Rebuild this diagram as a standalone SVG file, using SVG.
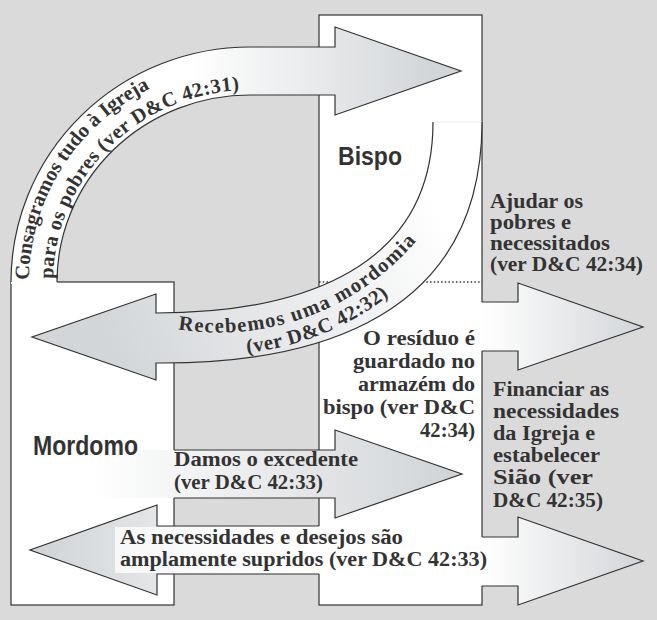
<svg xmlns="http://www.w3.org/2000/svg" width="657" height="620" viewBox="0 0 657 620">
<style>
.box{fill:#fff;stroke:#333;stroke-width:1.2}
.ol{fill:none;stroke:#333;stroke-width:1.2;stroke-linejoin:miter}
.t{font-family:"Liberation Serif","Times New Roman",serif;font-weight:bold;font-size:20.5px;fill:#333}
.h{font-family:"Liberation Sans",Arial,sans-serif;font-weight:bold;fill:#333}
</style>
<defs>
<linearGradient id="gA1" gradientUnits="userSpaceOnUse" x1="190" y1="0" x2="430" y2="0"><stop offset="0" stop-color="#fff"/><stop offset="1" stop-color="#d3d6d9"/></linearGradient>
<linearGradient id="gA2" gradientUnits="userSpaceOnUse" x1="430" y1="190" x2="110" y2="345"><stop offset="0" stop-color="#fff"/><stop offset="1" stop-color="#d3d6d9"/></linearGradient>
<linearGradient id="gA3" gradientUnits="userSpaceOnUse" x1="90" y1="0" x2="440" y2="0"><stop offset="0" stop-color="#fff"/><stop offset="1" stop-color="#d3d6d9"/></linearGradient>
<linearGradient id="gA4" gradientUnits="userSpaceOnUse" x1="50" y1="0" x2="330" y2="0"><stop offset="0" stop-color="#d3d6d9"/><stop offset="1" stop-color="#fff"/></linearGradient>
<linearGradient id="gR" gradientUnits="userSpaceOnUse" x1="482" y1="0" x2="640" y2="0"><stop offset="0" stop-color="#fff"/><stop offset="1" stop-color="#d3d6d9"/></linearGradient>
<path id="p1" d="M 29,282 A 221,217 0 0 1 250,65"/>
<path id="p2" d="M 53,282 A 197,192 0 0 1 250,90 L 300,90"/>
<path id="p3" d="M 175,329 A 260,260 0 0 0 440,208"/>
<path id="p4" d="M 200,354 A 282,282 0 0 0 460,215"/>
</defs>
<rect x="0" y="0" width="657" height="620" fill="#dadada"/>
<g id="mordomo">
<rect class="box" x="11" y="282" width="163" height="323"/>
</g>
<g id="bispo">
<rect class="box" x="319" y="15" width="163" height="590"/>
<line x1="319" y1="282" x2="482" y2="282" stroke="#333" stroke-width="1.5" stroke-dasharray="1.5,2.2"/>
</g>
<g id="connectors">
<g id="a1">
<path d="M 11,284 L 11,282 A 239,235 0 0 1 250,47 L 335,47 L 335,27 L 461,71 L 335,115 L 335,95 L 250,95 A 193,187 0 0 0 57,282 L 57,284 Z" fill="url(#gA1)"/>
<path class="ol" d="M 11,282 A 239,235 0 0 1 250,47 L 335,47 L 335,27 L 461,71 L 335,115 L 335,95 L 250,95 A 193,187 0 0 0 57,282"/>
</g>
<g id="a2">
<path d="M 433,122 C 433,280 280,313 156,313 L 156,294 L 32,337 L 156,380 L 156,363 C 285,364 482,335 482,122 Z" fill="url(#gA2)"/>
<line x1="433" y1="122" x2="482" y2="122" stroke="#e8e8e8" stroke-width="1"/>
<path class="ol" d="M 433,122 C 433,280 280,313 156,313 L 156,294 L 32,337 L 156,380 L 156,363 C 285,364 482,335 482,122"/>
</g>
<g id="a3">
<path d="M 60,450 L 335,450 L 335,430 L 462,474 L 335,518 L 335,498 L 60,498 Z" fill="url(#gA3)"/>
<path class="ol" d="M 174,450 L 335,450 L 335,430 L 462,474 L 335,518 L 335,498 L 174,498"/>
</g>
<g id="a4">
<path d="M 330,526 L 157,526 L 157,505 L 30,550 L 157,595 L 157,574 L 330,574 Z" fill="url(#gA4)"/>
<rect x="115" y="527" width="345" height="46" fill="#fff" fill-opacity="0.75"/>
<path class="ol" d="M 319,526 L 157,526 L 157,505 L 30,550 L 157,595 L 157,574 L 319,574"/>
</g>
<g id="a5">
<path d="M 470,537 L 518,537 L 518,517 L 643,561 L 518,605 L 518,586 L 470,586 Z" fill="url(#gR)"/>
<path class="ol" d="M 482,537 L 518,537 L 518,517 L 643,561 L 518,605 L 518,586 L 482,586"/>
</g>
<g id="a6">
<path d="M 470,302 L 518,302 L 518,283 L 643,327 L 518,370 L 518,351 L 470,351 Z" fill="url(#gR)"/>
<path class="ol" d="M 482,302 L 518,302 L 518,283 L 643,327 L 518,370 L 518,351 L 482,351"/>
</g>
</g>
<g id="labels">
<text class="h" x="338" y="165" font-size="26" textLength="64" lengthAdjust="spacingAndGlyphs">Bispo</text>
<text class="h" x="33" y="455" font-size="28" textLength="105" lengthAdjust="spacingAndGlyphs">Mordomo</text>
<text class="t" letter-spacing="0"><textPath href="#p1" startOffset="2">Consagramos tudo à Igreja</textPath></text>
<text class="t" letter-spacing="0.4"><textPath href="#p2" startOffset="3">para os pobres (ver D&amp;C 42:31)</textPath></text>
<text class="t" letter-spacing="1.3"><textPath href="#p3" startOffset="3">Recebemos uma mordomia</textPath></text>
<text class="t" letter-spacing="0.6"><textPath href="#p4" startOffset="47">(ver D&amp;C 42:32)</textPath></text>
<text class="t" x="490" y="208" textLength="93" lengthAdjust="spacingAndGlyphs">Ajudar os</text>
<text class="t" x="490" y="229" textLength="81" lengthAdjust="spacingAndGlyphs">pobres e</text>
<text class="t" x="490" y="250" textLength="120" lengthAdjust="spacingAndGlyphs">necessitados</text>
<text class="t" x="490" y="271" textLength="153" lengthAdjust="spacingAndGlyphs">(ver D&amp;C 42:34)</text>
<text class="t" x="363" y="345" textLength="112" lengthAdjust="spacingAndGlyphs">O resíduo é</text>
<text class="t" x="353" y="368" textLength="122" lengthAdjust="spacingAndGlyphs">guardado no</text>
<text class="t" x="358" y="391" textLength="117" lengthAdjust="spacingAndGlyphs">armazém do</text>
<text class="t" x="323" y="414" textLength="152" lengthAdjust="spacingAndGlyphs">bispo (ver D&amp;C</text>
<text class="t" x="420" y="437" textLength="55" lengthAdjust="spacingAndGlyphs">42:34)</text>
<text class="t" x="493" y="396" textLength="116" lengthAdjust="spacingAndGlyphs">Financiar as</text>
<text class="t" x="493" y="418" textLength="126" lengthAdjust="spacingAndGlyphs">necessidades</text>
<text class="t" x="493" y="440" textLength="102" lengthAdjust="spacingAndGlyphs">da Igreja e</text>
<text class="t" x="493" y="462" textLength="107" lengthAdjust="spacingAndGlyphs">estabelecer</text>
<text class="t" x="493" y="484" textLength="100" lengthAdjust="spacingAndGlyphs">Sião (ver</text>
<text class="t" x="493" y="507" textLength="110" lengthAdjust="spacingAndGlyphs">D&amp;C 42:35)</text>
<text class="t" x="174" y="466" textLength="184" lengthAdjust="spacingAndGlyphs">Damos o excedente</text>
<text class="t" x="174" y="489" textLength="149" lengthAdjust="spacingAndGlyphs">(ver D&amp;C 42:33)</text>
<text class="t" x="120" y="544" textLength="283" lengthAdjust="spacingAndGlyphs">As necessidades e desejos são</text>
<text class="t" x="120" y="566" textLength="367" lengthAdjust="spacingAndGlyphs">amplamente supridos (ver D&amp;C 42:33)</text>
</g>
</svg>
